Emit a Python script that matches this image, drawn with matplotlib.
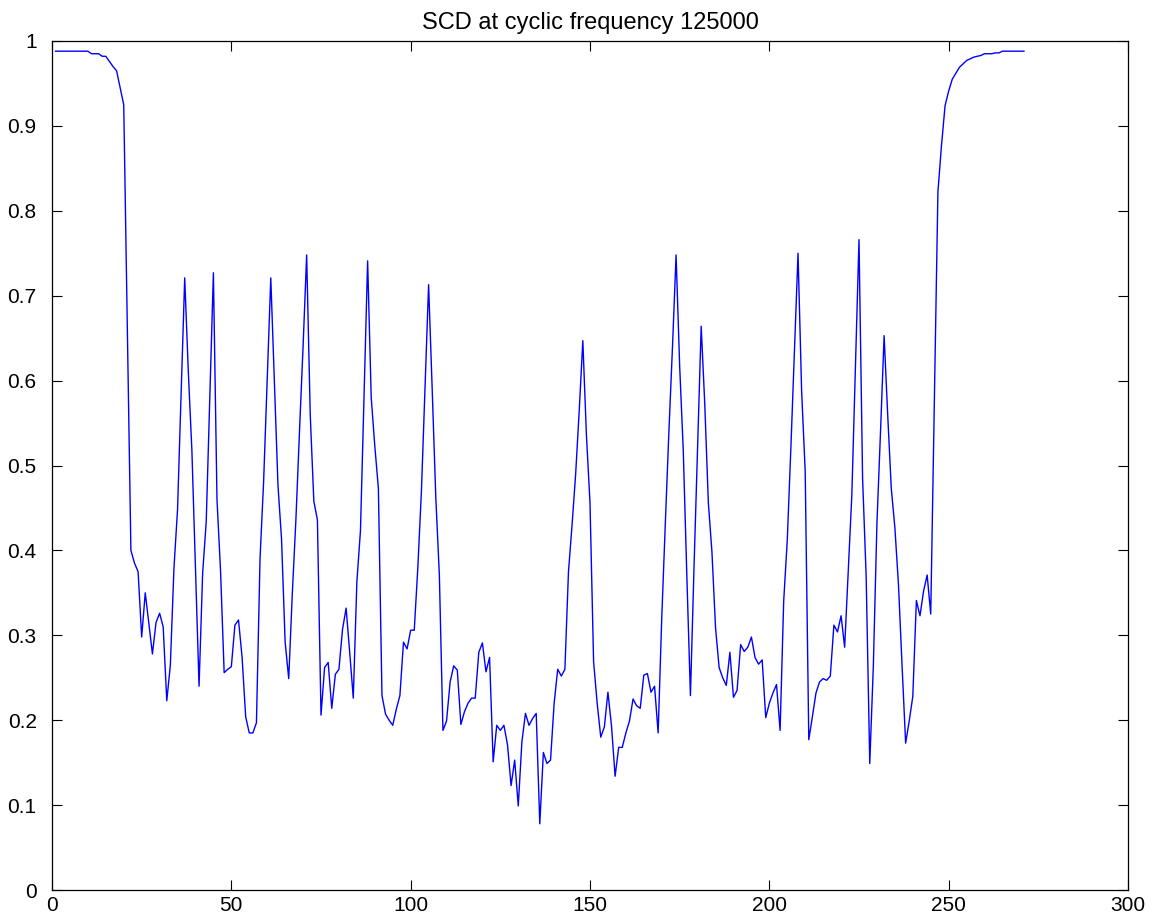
import numpy as np
import matplotlib
matplotlib.use("Agg")
import matplotlib.pyplot as plt

# SCD magnitude at cyclic frequency 125000, one value per sample (x = 1..271)
scd_001_050 = [0.988, 0.988, 0.988, 0.988, 0.988, 0.988, 0.988, 0.988, 0.988, 0.988,
               0.985, 0.985, 0.985, 0.982, 0.982, 0.976, 0.970, 0.965, 0.945, 0.925,
               0.660, 0.400, 0.385, 0.375, 0.298, 0.350, 0.314, 0.278, 0.315, 0.326,
               0.310, 0.223, 0.265, 0.379, 0.448, 0.585, 0.721, 0.611, 0.518, 0.380,
               0.240, 0.373, 0.434, 0.580, 0.727, 0.460, 0.375, 0.256, 0.260, 0.263]
scd_051_100 = [0.312, 0.318, 0.274, 0.204, 0.185, 0.185, 0.197, 0.390, 0.481, 0.600,
               0.721, 0.600, 0.477, 0.413, 0.292, 0.249, 0.349, 0.436, 0.540, 0.640,
               0.748, 0.560, 0.458, 0.436, 0.206, 0.262, 0.268, 0.214, 0.254, 0.260,
               0.307, 0.332, 0.280, 0.226, 0.363, 0.423, 0.580, 0.741, 0.580, 0.523,
               0.473, 0.229, 0.207, 0.200, 0.194, 0.213, 0.229, 0.292, 0.284, 0.306]
scd_101_150 = [0.306, 0.380, 0.470, 0.590, 0.713, 0.590, 0.463, 0.371, 0.188, 0.199,
               0.245, 0.264, 0.259, 0.195, 0.210, 0.220, 0.226, 0.226, 0.280, 0.291,
               0.257, 0.274, 0.151, 0.194, 0.188, 0.194, 0.171, 0.123, 0.153, 0.099,
               0.174, 0.208, 0.194, 0.202, 0.208, 0.078, 0.162, 0.149, 0.153, 0.220,
               0.260, 0.252, 0.260, 0.375, 0.430, 0.490, 0.565, 0.647, 0.536, 0.456]
scd_151_200 = [0.269, 0.220, 0.180, 0.192, 0.233, 0.193, 0.134, 0.168, 0.168, 0.185,
               0.199, 0.225, 0.217, 0.214, 0.253, 0.255, 0.233, 0.240, 0.185, 0.320,
               0.432, 0.540, 0.640, 0.748, 0.617, 0.518, 0.370, 0.229, 0.380, 0.520,
               0.664, 0.572, 0.456, 0.398, 0.309, 0.262, 0.250, 0.241, 0.280, 0.227,
               0.235, 0.289, 0.281, 0.286, 0.298, 0.274, 0.266, 0.271, 0.203, 0.220]
scd_201_250 = [0.232, 0.242, 0.188, 0.340, 0.412, 0.520, 0.635, 0.750, 0.588, 0.493,
               0.177, 0.204, 0.232, 0.245, 0.249, 0.247, 0.252, 0.312, 0.304, 0.323,
               0.286, 0.375, 0.465, 0.615, 0.766, 0.485, 0.369, 0.149, 0.264, 0.432,
               0.540, 0.653, 0.560, 0.473, 0.427, 0.360, 0.265, 0.173, 0.199, 0.228,
               0.341, 0.323, 0.352, 0.371, 0.325, 0.570, 0.822, 0.877, 0.924, 0.941]
scd_251_271 = [0.955, 0.962, 0.969, 0.973, 0.977, 0.979, 0.981, 0.982, 0.983, 0.985,
               0.985, 0.985, 0.986, 0.986, 0.988, 0.988, 0.988, 0.988, 0.988, 0.988,
               0.988]

x_ticks = [0, 50, 100, 150, 200, 250, 300]
y_ticks = [0, 0.1, 0.2, 0.3, 0.4, 0.5, 0.6, 0.7, 0.8, 0.9, 1]
y_labels = ["0", "0.1", "0.2", "0.3", "0.4", "0.5", "0.6", "0.7", "0.8", "0.9", "1"]

scd = np.array(scd_001_050 + scd_051_100 + scd_101_150 +
               scd_151_200 + scd_201_250 + scd_251_271)
x = np.arange(1, len(scd) + 1)

plt.rcParams["font.family"] = ["Liberation Sans", "DejaVu Sans"]

fig = plt.figure(figsize=(11.58, 9.24), dpi=100)
ax = fig.add_axes([52 / 1158, 34 / 924, 1076 / 1158, 849 / 924])

ax.plot(x, scd, color="#0000ff", linewidth=1.0)

ax.set_xlim(0, 300)
ax.set_ylim(0, 1)
ax.set_xticks(x_ticks)
ax.set_xticklabels([str(t) for t in x_ticks])
ax.set_yticks(y_ticks)
ax.set_yticklabels(y_labels)
ax.tick_params(direction="in", length=7, width=0.8, top=True, right=True,
               labelsize=15)
ax.tick_params(axis="x", pad=4)
ax.tick_params(axis="y", pad=11)
for s in ax.spines.values():
    s.set_linewidth(0.9)

ax.set_title("SCD at cyclic frequency 125000", fontsize=17, pad=9)

fig.savefig("out.png", dpi=100)
